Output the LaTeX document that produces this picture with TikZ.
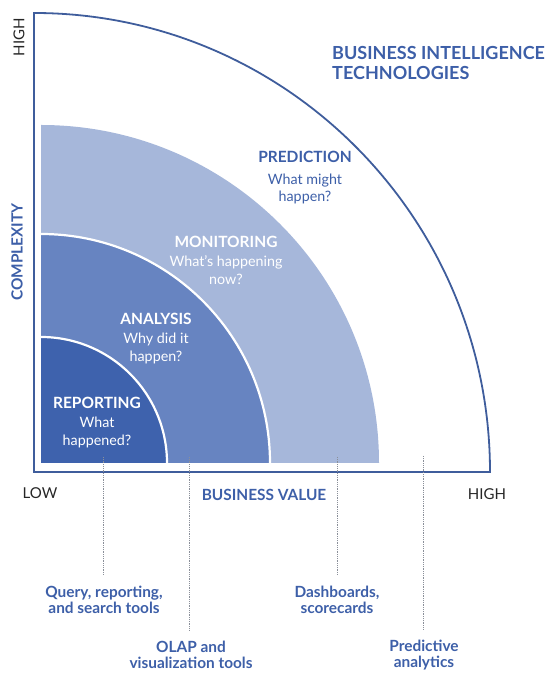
\documentclass[tikz,border=0pt]{standalone}
\usepackage{fontspec}
\setmainfont{Lato}
\begin{document}
\definecolor{repcol}{HTML}{3E62AD}
\definecolor{anacol}{HTML}{6784C1}
\definecolor{moncol}{HTML}{A6B7DA}
\definecolor{txtblue}{HTML}{3D5FA8}
\definecolor{framecol}{HTML}{3F5D9C}
\definecolor{leadcol}{HTML}{8A8F99}
\begin{tikzpicture}[x=1pt,y=1pt,
  frame/.style={draw=framecol,line width=1.8pt,line join=miter},
  sep/.style={draw=white,line width=2.2pt},
  head/.style={font=\bfseries\fontsize{15.5}{18}\selectfont,inner sep=0pt},
  sub/.style={font=\fontsize{14.3}{17.5}\selectfont,align=center,inner sep=0pt},
  tool/.style={font=\bfseries\fontsize{15.4}{16.5}\selectfont,text=txtblue,align=center,inner sep=0pt},
  axislab/.style={font=\fontsize{15}{17}\selectfont,text=black!85,inner sep=0pt},
  axistitle/.style={font=\bfseries\fontsize{15.4}{17}\selectfont,text=txtblue,inner sep=0pt},
  leader/.style={draw=leadcol,line width=0.8pt,densely dotted,shorten >=10pt}]
\useasboundingbox (0,0) rectangle (547,674);

% nested quarter-disc bands around the lower-left corner
\coordinate (c) at (41,211);
\fill[moncol] (c) -- ++(0,338) arc[start angle=90,end angle=0,radius=338] -- cycle;
\fill[anacol] (c) -- ++(0,229) arc[start angle=90,end angle=0,radius=229] -- cycle;
\draw[sep] (41,440) arc[start angle=90,end angle=0,radius=229];
\fill[repcol] (c) -- ++(0,126) arc[start angle=90,end angle=0,radius=126] -- cycle;
\draw[sep] (41,337) arc[start angle=90,end angle=0,radius=126];

% axes frame with its elliptic outer edge
\draw[frame] (490,202) -- (34,202) -- (34,661)
  arc[start angle=90,end angle=0,x radius=456,y radius=459] -- cycle;

% band labels
\node[head,text=txtblue] (predh) at (305,517) {PREDICTION};
\node[sub,text=txtblue] (preds) at (305,485) {What might\\happen?};
\node[head,text=white] (monh) at (226,432) {MONITORING};
\node[sub,text=white] (mons) at (226,404) {What’s happening\\now?};
\node[head,text=white] (anah) at (156,355) {ANALYSIS};
\node[sub,text=white] (anas) at (156,325.5) {Why did it\\happen?};
\node[head,text=white] (reph) at (97,271) {REPORTING};
\node[sub,text=white] (reps) at (97,241.5) {What\\happened?};

% title
\node[font=\bfseries\fontsize{18}{20}\selectfont,text=txtblue,align=left,anchor=west,inner sep=0pt]
  (title) at (332,611) {BUSINESS INTELLIGENCE\\TECHNOLOGIES};

% axis labels
\node[axislab,rotate=90] (yhigh) at (19,637) {HIGH};
\node[axistitle,rotate=90] (ytitle) at (17,422) {COMPLEXITY};
\node[axislab] (xlow) at (40,181) {LOW};
\node[axistitle] (xtitle) at (264,179) {BUSINESS VALUE};
\node[axislab] (xhigh) at (487,180) {HIGH};

% technology labels and their leaders
\node[tool] (query) at (104,74) {Query, reporting,\\and search tools};
\node[tool] (olap) at (191,19) {OLAP and\\visualization tools};
\node[tool] (dash) at (337,74) {Dashboards,\\scorecards};
\node[tool] (predt) at (424,19) {Predictive\\analytics};

\coordinate (l1) at (103,217);
\coordinate (l2) at (189,217);
\coordinate (l3) at (337,217);
\coordinate (l4) at (423,218);
\draw[leader] (l1) -- (l1 |- query.north);
\draw[leader] (l2) -- (l2 |- olap.north);
\draw[leader] (l3) -- (l3 |- dash.north);
\draw[leader] (l4) -- (l4 |- predt.north);
\end{tikzpicture}
\end{document}
